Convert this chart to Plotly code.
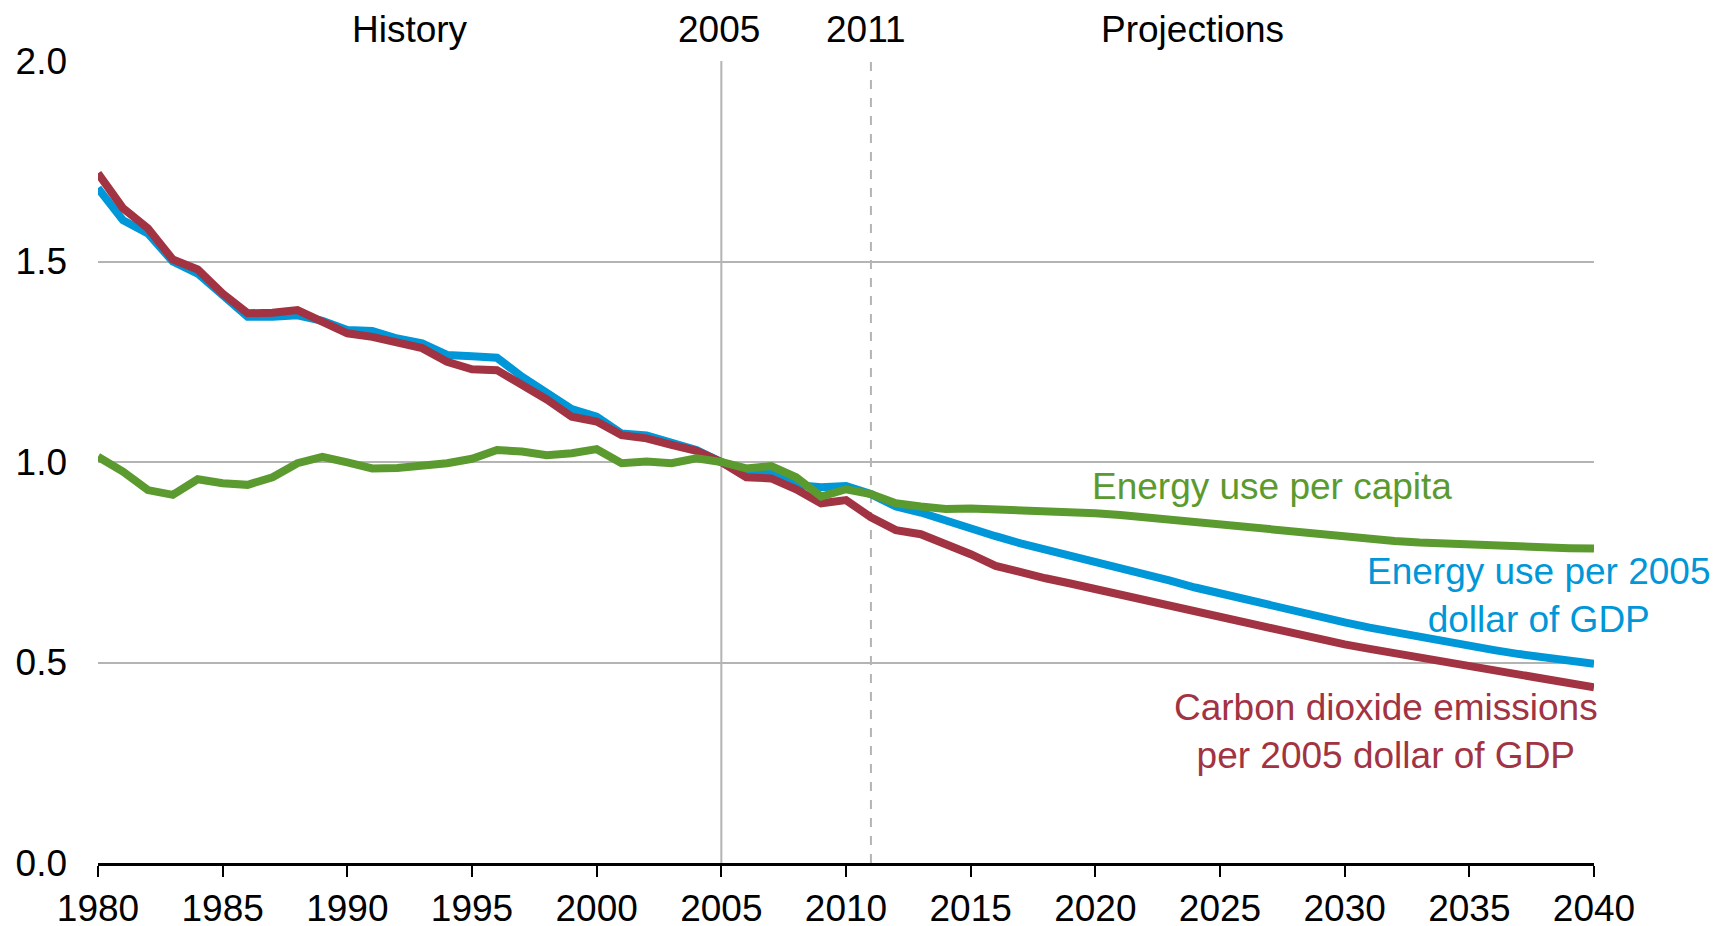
import plotly.graph_objects as go

# Index, 2005 = 1.0
years = list(range(1980, 2041))

energy_per_gdp = [
    1.683, 1.603, 1.570, 1.500, 1.470, 1.415, 1.362, 1.362, 1.366, 1.352,
    1.329, 1.327, 1.308, 1.296, 1.267, 1.264, 1.260, 1.213, 1.171, 1.132,
    1.113, 1.071, 1.066, 1.048, 1.030, 1.000, 0.972, 0.970, 0.943, 0.937,
    0.940, 0.920, 0.889, 0.874, 0.853, 0.835, 0.815, 0.797, 0.782, 0.768,
    0.751, 0.735, 0.720, 0.704, 0.687, 0.672, 0.656, 0.641, 0.627, 0.613,
    0.600, 0.587, 0.575, 0.563, 0.552, 0.541, 0.531, 0.521, 0.512, 0.504,
    0.497,
]

co2_per_gdp = [
    1.720, 1.633, 1.583, 1.505, 1.480, 1.420, 1.371, 1.372, 1.379, 1.352,
    1.321, 1.312, 1.297, 1.284, 1.250, 1.231, 1.229, 1.194, 1.156, 1.113,
    1.101, 1.067, 1.059, 1.043, 1.028, 1.000, 0.962, 0.959, 0.932, 0.897,
    0.905, 0.862, 0.830, 0.820, 0.796, 0.770, 0.741, 0.724, 0.710, 0.697,
    0.683, 0.668, 0.656, 0.641, 0.626, 0.612, 0.598, 0.584, 0.570, 0.557,
    0.545, 0.534, 0.523, 0.512, 0.502, 0.491, 0.480, 0.469, 0.458, 0.448,
    0.438,
]

energy_per_capita = [
    1.013, 0.976, 0.930, 0.918, 0.957, 0.947, 0.943, 0.962, 0.997, 1.013,
    0.999, 0.984, 0.985, 0.990, 0.997, 1.008, 1.030, 1.026, 1.017, 1.022,
    1.032, 0.997, 1.001, 0.997, 1.009, 1.000, 0.984, 0.990, 0.962, 0.914,
    0.932, 0.920, 0.897, 0.889, 0.883, 0.884, 0.882, 0.880, 0.880, 0.878,
    0.872, 0.868, 0.862, 0.855, 0.849, 0.843, 0.836, 0.830, 0.825, 0.820,
    0.814, 0.808, 0.803, 0.799, 0.796, 0.793, 0.790, 0.788, 0.786, 0.785,
    0.784,
]

base_year = 2005
last_history_year = 2011

GREEN = "#5B9A2F"
BLUE = "#0097D8"
RED = "#A23342"
GRID = "#B4B4B4"
FONT = "Liberation Sans, Arial, sans-serif"
FSIZE = 37

fig = go.Figure()

# blue first, red over it, green on top
fig.add_trace(go.Scatter(x=years, y=energy_per_gdp, mode="lines",
                         line=dict(color=BLUE, width=8), hoverinfo="none"))
fig.add_trace(go.Scatter(x=years, y=co2_per_gdp, mode="lines",
                         line=dict(color=RED, width=8), hoverinfo="none"))
fig.add_trace(go.Scatter(x=years, y=energy_per_capita, mode="lines",
                         line=dict(color=GREEN, width=8), hoverinfo="none"))

# reference year lines
fig.add_shape(type="line", xref="x", yref="paper", x0=base_year, x1=base_year,
              y0=0, y1=1, line=dict(color=GRID, width=2), layer="below")
fig.add_shape(type="line", xref="x", yref="paper", x0=last_history_year,
              x1=last_history_year, y0=0, y1=1,
              line=dict(color=GRID, width=2, dash="dash"), layer="below")

# header texts above the plot
headers = [("History", 1992.5), (str(base_year), 2004.9),
           (str(last_history_year), 2010.8), ("Projections", 2023.9)]
for text, xpos in headers:
    fig.add_annotation(x=xpos, y=1, xref="x", yref="paper", text=text,
                       showarrow=False, yanchor="middle", yshift=32,
                       font=dict(size=FSIZE, color="black", family=FONT))

# series labels
labels = [
    ("Energy use per capita", 2027.1, 0.939, GREEN),
    ("Energy use per 2005<br>dollar of GDP", 2037.8, 0.666, BLUE),
    ("Carbon dioxide emissions<br>per 2005 dollar of GDP", 2031.65, 0.327, RED),
]
for text, xpos, ypos, colour in labels:
    fig.add_annotation(x=xpos, y=ypos, text=text, showarrow=False,
                       align="center", font=dict(size=FSIZE, color=colour, family=FONT))

# the page body adds 8px, so margins are offset by that
fig.update_layout(
    width=1719, height=926,
    margin=dict(l=90, r=133, t=53, b=71),
    plot_bgcolor="white", paper_bgcolor="white",
    showlegend=False,
    font=dict(family=FONT, size=FSIZE, color="black"),
    xaxis=dict(range=[1980, 2040], dtick=5, tick0=1980, showgrid=False,
               showline=True, linecolor="black", linewidth=2.5,
               ticks="outside", ticklen=11, tickwidth=2, tickcolor="black",
               zeroline=False, automargin=False),
    yaxis=dict(range=[0, 2], dtick=0.5, tickformat=".1f", showgrid=True,
               gridcolor=GRID, gridwidth=2, zeroline=False, showline=False,
               ticks="", ticklabelstandoff=30, automargin=False),
)

fig.write_html("out.html")
